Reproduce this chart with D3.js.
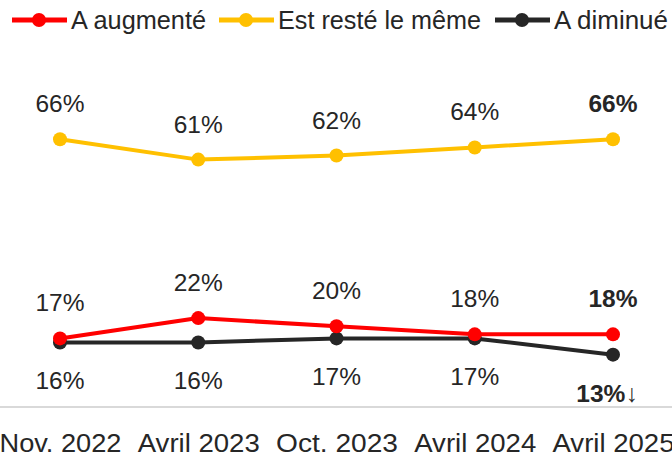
<!DOCTYPE html>
<html>
<head>
<meta charset="utf-8">
<script src="https://cdn.jsdelivr.net/npm/d3@7"></script>
<style>
  body { margin: 0; background: #fff; }
  svg { display: block; }
</style>
</head>
<body>
<script>
const categories = ['Nov. 2022', 'Avril 2023', 'Oct. 2023', 'Avril 2024', 'Avril 2025']
const seriesNames = ['A augmenté', 'Est resté le même', 'A diminué']
const augmente = [17, 22, 20, 18, 18]
const reste = [66, 61, 62, 64, 66]
const diminue = [16, 16, 17, 17, 13]
const colors = ['#FF0000', '#FFC000', '#262626']

const width = 672
const height = 458
const font = '"Liberation Sans", Arial, sans-serif'

const svg = d3.select('body').append('svg').attr('width', width).attr('height', height)

const x = d3.scalePoint().domain(categories).range([60, 613])
const y = d3.scaleLinear().domain([0, 66]).range([407.5, 139.3])

// axe des x
svg.append('line')
  .attr('x1', 0).attr('x2', width)
  .attr('y1', 407).attr('y2', 407)
  .attr('stroke', '#D9D9D9').attr('stroke-width', 2)

const xAxis = d3.axisBottom(x).tickSize(0).tickPadding(0)
const gx = svg.append('g').attr('transform', 'translate(0,' + 452 + ')').call(xAxis)
gx.select('.domain').remove()
gx.selectAll('text')
  .attr('dy', 0)
  .attr('font-family', font)
  .attr('font-size', 26)
  .attr('textLength', 122)
  .attr('lengthAdjust', 'spacingAndGlyphs')
  .attr('fill', '#262626')

const series = [
  { name: seriesNames[0], values: augmente, color: colors[0], dy: -27 },
  { name: seriesNames[1], values: reste, color: colors[1], dy: -27 },
  { name: seriesNames[2], values: diminue, color: colors[2], dy: 47 }
]

const line = d3.line().x((d, i) => x(categories[i])).y(d => y(d))

// ordre de dessin : jaune, noir, rouge
const drawOrder = [series[1], series[2], series[0]]
drawOrder.forEach(s => {
  svg.append('path')
    .attr('d', line(s.values))
    .attr('fill', 'none')
    .attr('stroke', s.color)
    .attr('stroke-width', 4)
    .attr('stroke-linejoin', 'round')
  svg.selectAll(null).data(s.values).enter().append('circle')
    .attr('cx', (d, i) => x(categories[i]))
    .attr('cy', d => y(d))
    .attr('r', 7)
    .attr('fill', s.color)
})

series.forEach(s => {
  const last = s.values.length - 1
  const isDown = s.values === diminue
  svg.selectAll(null).data(s.values).enter().append('text')
    .attr('x', (d, i) => x(categories[i]) - (i === last && isDown ? 6 : 0))
    .attr('y', d => y(d) + s.dy)
    .attr('text-anchor', 'middle')
    .attr('font-family', font)
    .attr('font-size', 24.5)
    .attr('font-weight', (d, i) => i === last ? 'bold' : 'normal')
    .attr('fill', '#262626')
    .text((d, i) => d + '%' + (i === last && isDown ? '\u2193' : ''))
})

// légende
const legendX = [12, 219, 495]
const legendW = [135, 203, 114]
series.forEach((s, i) => {
  const g = svg.append('g').attr('transform', 'translate(' + legendX[i] + ',20)')
  g.append('line').attr('x1', 0).attr('x2', 55).attr('stroke', s.color).attr('stroke-width', 5)
  g.append('circle').attr('cx', 27).attr('r', 7).attr('fill', s.color)
  g.append('text')
    .attr('x', 59).attr('y', 9)
    .attr('font-family', font)
    .attr('font-size', 25)
    .attr('textLength', legendW[i])
    .attr('lengthAdjust', 'spacingAndGlyphs')
    .attr('fill', '#262626')
    .text(s.name)
})
</script>
</body>
</html>
